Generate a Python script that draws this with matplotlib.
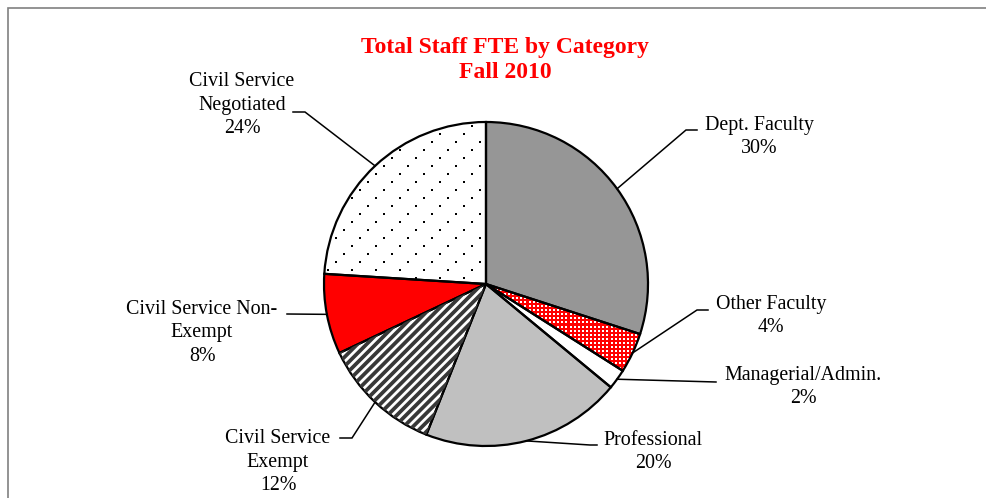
import matplotlib
matplotlib.use("Agg")
import matplotlib.pyplot as plt
from matplotlib.patches import Rectangle
from matplotlib.collections import LineCollection
import numpy as np

categories = ["Dept. Faculty", "Other Faculty", "Managerial/Admin.", "Professional",
              "Civil Service\nExempt", "Civil Service Non-\nExempt", "Civil Service\nNegotiated"]
percents = [30, 4, 2, 20, 12, 8, 24]
title_lines = "Total Staff FTE by Category\nFall 2010"

# base fill and texture kind for each slice
fills = ["#969696", "#ff0000", "white", "#c0c0c0", "white", "#ff0000", "white"]
textures = [None, "grid", None, None, "stripes", None, "dots"]

# label centre, elbow point, line end (pixels, y down)
layout = [
    ((759, 137), (686, 130), (697, 130)),
    ((771, 316), (697, 310), (708, 310)),
    ((803, 387), (716, 382), (716, 382)),
    ((653, 452), (590, 445), (597, 445)),
    ((278, 462), (352, 438), (340, 438)),
    ((202, 333), (287, 314), (287, 314)),
    ((242, 105), (305, 112), (293, 112)),
]

W, H = 986, 498
cx, cy, r = 486, H - 284, 162

plt.rcParams['font.family'] = ['Liberation Serif', 'DejaVu Serif']
fig = plt.figure(figsize=(W / 100, H / 100), dpi=100)
ax = fig.add_axes([0, 0, 1, 1])

wedges, _ = ax.pie(percents, startangle=90, counterclock=False, center=(cx, cy),
                   radius=r, colors=fills, wedgeprops=dict(linewidth=0))


def add_texture(w, kind):
    x0, x1 = cx - r - 20, cx + r + 20
    y0, y1 = cy - r - 20, cy + r + 20
    if kind == "grid":
        xs, ys = np.meshgrid(np.arange(x0, x1, 4.1), np.arange(y0, y1, 4.1))
        art = ax.scatter(xs.ravel(), ys.ravel(), s=1.6 ** 2, marker="s",
                         color="white", linewidths=0)
    elif kind == "dots":
        jj, ii = np.meshgrid(np.arange(0, 50), np.arange(-10, 30))
        xs = x0 + 24 * ii - 8 * jj
        ys = y1 - 8 * jj
        art = ax.scatter(xs.ravel(), ys.ravel(), s=1.8 ** 2, marker="s",
                         color="black", linewidths=0)
    elif kind == "stripes":
        segs = [[(x0, x0 + c), (x1, x1 + c)] for c in np.arange(y0 - x1, y1 - x0, 9.2)]
        art = LineCollection(segs, colors="#383838", linewidths=2.7)
        ax.add_collection(art)
    else:
        return
    art.set_clip_path(w)


for w, kind in zip(wedges, textures):
    add_texture(w, kind)

# black outlines on top
ax.pie(percents, startangle=90, counterclock=False, center=(cx, cy),
       radius=r, wedgeprops=dict(fill=False, edgecolor="black", linewidth=1.6))

for w, name, pct, (lab, elbow, end) in zip(wedges, categories, percents, layout):
    ang = np.deg2rad((w.theta1 + w.theta2) / 2)
    px, py = cx + r * np.cos(ang), cy + r * np.sin(ang)
    ax.plot([px, elbow[0], end[0]], [py, H - elbow[1], H - end[1]],
            color="black", lw=1.1, solid_joinstyle="miter")
    ax.text(lab[0], H - lab[1], f"{name}\n{pct}%", ha="center", va="center",
            multialignment="center", fontsize=14.4, linespacing=1.3)

ax.text(505, H - 60, title_lines, ha="center", va="center", color="#ff0000",
        fontsize=17, fontweight="bold", linespacing=1.2)

ax.set_xlim(0, W)
ax.set_ylim(0, H)
ax.set_aspect("equal")
ax.axis("off")

# outer frame (only top and left edges fall inside the picture)
fig.patches.append(Rectangle((8 / W, -0.1), 1.2, 1.1 - 8.5 / H, transform=fig.transFigure,
                             fill=False, edgecolor="#808080", lw=1.2))

fig.savefig("out.png", dpi=100)
